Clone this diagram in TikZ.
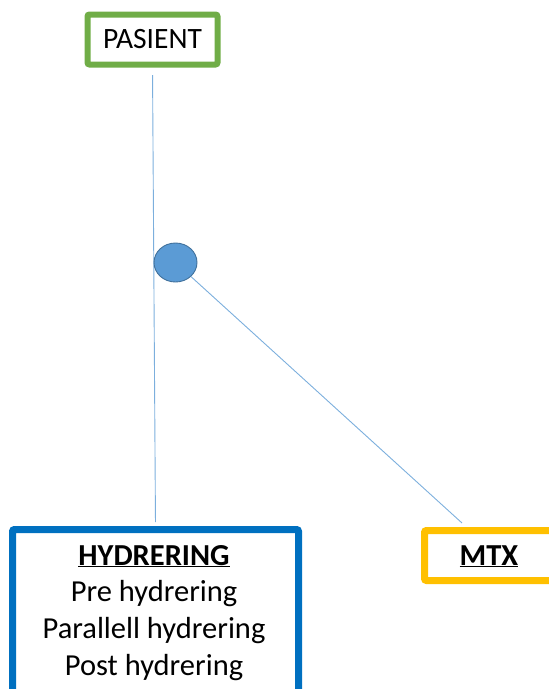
\documentclass[tikz,border=0pt]{standalone}
\usepackage{fontspec}
\setmainfont{Carlito}
\usetikzlibrary{shapes.geometric}
\definecolor{pgreen}{HTML}{70AD47}
\definecolor{hblue}{HTML}{0070C0}
\definecolor{myell}{HTML}{FFC000}
\definecolor{lblue}{HTML}{5B9BD5}
\definecolor{cblue}{HTML}{41719C}
\tikzset{
  box/.style={draw, rectangle, rounded corners=2pt, inner sep=0pt},
  conn/.style={draw=lblue!80, line width=0.9pt},
  lbl/.style={font=\fontsize{30.5}{36}\selectfont, inner sep=0pt, anchor=base},
}
\begin{document}
\begin{tikzpicture}[x=1pt,y=-1pt]
\useasboundingbox (0,0) rectangle (549,689);
\clip (0,0) rectangle (549,689);
\node[box, draw=pgreen, line width=6pt, minimum width=130pt, minimum height=50pt,
  font=\fontsize{29.5}{34}\selectfont] (pas) at (152.5,39.5) {PASIENT};
\node[box, draw=hblue, line width=7pt, minimum width=286pt, minimum height=250pt, anchor=north] (hyd) at (155.5,526) {};
\node[box, draw=myell, line width=7pt, minimum width=129pt, minimum height=50pt] (mtx) at (489,555.5) {};
\node[lbl, font=\fontsize{30.5}{36}\selectfont\bfseries] (mtxt) at (489,565) {\underline{MTX}};
\node[lbl, font=\fontsize{30.5}{36}\selectfont\bfseries] (h0) at (154,565) {\underline{HYDRERING}};
\node[lbl] (h1) at (154,601) {Pre hydrering};
\node[lbl] (h2) at (154,638) {Parallell hydrering};
\node[lbl] (h3) at (154,675) {Post hydrering};
\draw[conn, shorten <=7.5pt, shorten >=4pt] (pas.south) -- (hyd.north);
\coordinate (mtxend) at (462,523);
\node[ellipse, draw=cblue, line width=0.9pt, fill=lblue, minimum width=43pt, minimum height=39pt, inner sep=0pt] (circ) at (175.5,262.5) {};
\draw[conn] (circ) -- (mtxend);
\end{tikzpicture}
\end{document}
